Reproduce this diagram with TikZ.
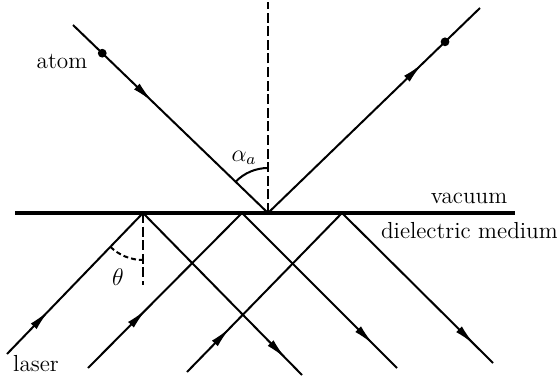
\documentclass[tikz,border=0pt]{standalone}
\usepackage{amsmath}
\usepackage{tikz}
\usetikzlibrary{arrows.meta,decorations.markings}

\begin{document}
\begin{tikzpicture}[
    x=0.5pt, y=-0.5pt,
    font=\fontsize{11.6}{13}\selectfont,
    beam/.style={line width=1pt},
    surface/.style={line width=1.8pt},
    normal/.style={line width=1pt, dash pattern=on 5pt off 1.8pt},
    flow/.style={postaction={decorate, decoration={markings, mark=at position #1 with {\arrow{Latex[length=11pt,width=4pt]}}}}},
    dot/.style={circle, fill, inner sep=0pt, minimum size=4.4pt}
]
\useasboundingbox (0,0) rectangle (557,385);

% interface
\coordinate (s1) at (15,213);
\coordinate (s2) at (515,213);
\draw[surface] (s1) -- (s2);

\node (vaclbl) at (469,198) {vacuum};
\node[anchor=west] (dielbl) at (374,231) {dielectric medium};

% atom beam
\coordinate (ain) at (73,25);
\coordinate (ar) at (268,213);
\coordinate (aout) at (480,8);
\coordinate (atop) at (268,2);

\draw[normal] (ar) -- (atop);
\draw[beam, flow=0.41] (ain) -- (ar) node[pos=0.15, dot] (d1) {};
\draw[beam, flow=0.73] (ar) -- (aout) node[pos=0.835, dot] (d2) {};
\draw[beam] (ar) ++(0pt,22.5pt) arc[start angle=90, end angle=136, radius=22.5pt];

\node (atomlbl) at (62,61) {atom};
\node (alphalbl) at (244,158) {$\alpha_a$};

% laser beams
\coordinate (i1) at (7,354);
\coordinate (r1) at (143,213);
\coordinate (o1) at (302,375);
\coordinate (i2) at (88,368);
\coordinate (r2) at (242,213);
\coordinate (o2) at (397,368);
\coordinate (i3) at (187,372);
\coordinate (r3) at (342,213);
\coordinate (o3) at (493,363);
\coordinate (n1) at (143,285);

\draw[beam, flow=0.31] (i1) -- (r1);
\draw[beam, flow=0.90] (r1) -- (o1);
\draw[beam, flow=0.38] (i2) -- (r2);
\draw[beam, flow=0.85] (r2) -- (o2);
\draw[beam, flow=0.28] (i3) -- (r3);
\draw[beam, flow=0.88] (r3) -- (o3);

\draw[normal] (r1) -- (n1);
\draw[beam, dash pattern=on 2.5pt off 1.5pt] (r1) ++(226:23.5pt) arc[start angle=226, end angle=270, radius=23.5pt];

\node (thetalbl) at (118,277) {$\theta$};
\node (laserlbl) at (36,364) {laser};

\end{tikzpicture}
\end{document}
